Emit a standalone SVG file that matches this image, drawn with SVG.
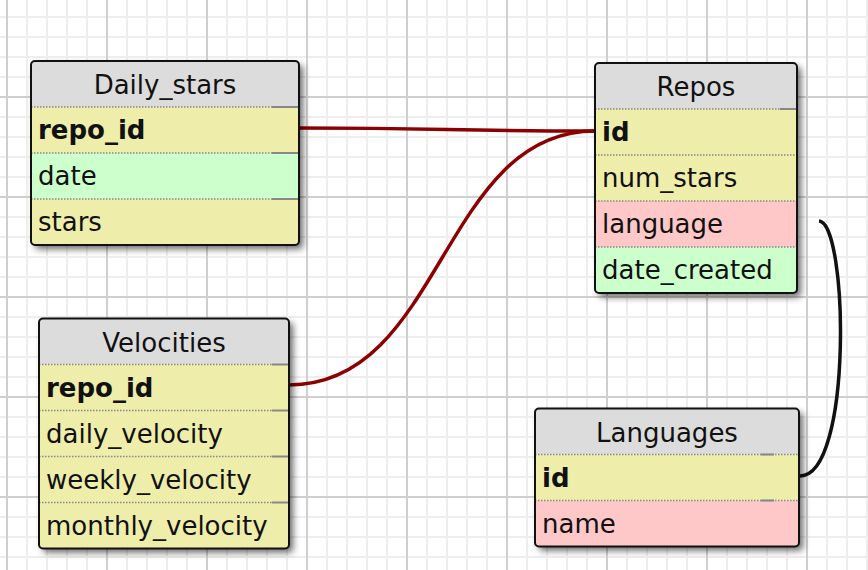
<svg xmlns="http://www.w3.org/2000/svg" width="868" height="570" viewBox="0 0 868 570">
<defs>
<pattern id="grid" patternUnits="userSpaceOnUse" x="-3" y="-13" width="100" height="100">
<path d="M30 0V100M50 0V100M70 0V100M90 0V100M0 30H100M0 50H100M0 70H100M0 90H100" stroke="#eeeeee" stroke-width="2" fill="none"/>
<path d="M10 0V100M0 10H100" stroke="#cfcfcf" stroke-width="2" fill="none"/>
</pattern>
<filter id="sh" x="-10%" y="-10%" width="130%" height="130%">
<feGaussianBlur in="SourceAlpha" stdDeviation="3.5"/>
<feOffset dx="4" dy="4" result="b"/>
<feComponentTransfer><feFuncA type="linear" slope="0.6"/></feComponentTransfer>
<feMerge><feMergeNode/><feMergeNode in="SourceGraphic"/></feMerge>
</filter>
<clipPath id="cDaily"><rect x="31" y="61" width="268" height="184" rx="4"/></clipPath>
<clipPath id="cRepos"><rect x="595" y="63" width="202" height="230" rx="4"/></clipPath>
<clipPath id="cVel"><rect x="39" y="318.5" width="250" height="230" rx="4"/></clipPath>
<clipPath id="cLang"><rect x="535" y="408.5" width="264" height="138" rx="4"/></clipPath>
</defs>
<style>
.hd{fill:#dcdcdc}
.y{fill:#eeeeaa}
.g{fill:#ccffcc}
.p{fill:#ffc8c8}
.bd{fill:none;stroke:#111;stroke-width:2}
.bg{fill:#fff;filter:url(#sh)}
.sep{stroke:#888;stroke-width:1.5;stroke-dasharray:1.5 1.5}
.sol{stroke:#888;stroke-width:2}
text{font-family:"DejaVu Sans",Verdana,sans-serif;font-size:26px;fill:#111}
.t{text-anchor:middle}
.k{font-weight:bold}
.rel{fill:none;stroke:#8b0000;stroke-width:3.5}
.rel2{fill:none;stroke:#111;stroke-width:3.5}
</style>
<rect width="868" height="570" fill="#fff"/>
<rect width="868" height="570" fill="url(#grid)"/>

<g id="connectors">
<path class="rel" d="M299 128C447 128 447 131 595 131"/>
<path class="rel" d="M289 385C443 385 441 131 595 131"/>
<path class="rel2" d="M819 221C848 222 853 476 800 476"/>
</g>

<g id="Daily_stars">
<rect class="bg" x="31" y="61" width="268" height="184" rx="4"/>
<g clip-path="url(#cDaily)">
<rect class="hd" x="31" y="61" width="268" height="46"/>
<rect class="y" x="31" y="107" width="268" height="46"/>
<rect class="g" x="31" y="153" width="268" height="46"/>
<rect class="y" x="31" y="199" width="268" height="46"/>
</g>
<path class="sep" d="M31 107H272M31 153H272M31 199H272"/>
<path class="sol" d="M272 107H299M272 153H299M272 199H299"/>
<rect class="bd" x="31" y="61" width="268" height="184" rx="4"/>
<text class="t" x="165" y="94">Daily_stars</text>
<text class="k" x="38" y="139">repo_id</text>
<text x="38" y="185">date</text>
<text x="38" y="231">stars</text>
</g>

<g id="Repos">
<rect class="bg" x="595" y="63" width="202" height="230" rx="4"/>
<g clip-path="url(#cRepos)">
<rect class="hd" x="595" y="63" width="202" height="46"/>
<rect class="y" x="595" y="109" width="202" height="92"/>
<rect class="p" x="595" y="201" width="202" height="46"/>
<rect class="g" x="595" y="247" width="202" height="46"/>
</g>
<path class="sep" d="M595 109H780M595 155H797M595 201H797M595 247H797"/>
<path class="sol" d="M780 109H797"/>
<rect class="bd" x="595" y="63" width="202" height="230" rx="4"/>
<text class="t" x="696" y="96">Repos</text>
<text class="k" x="602" y="141">id</text>
<text x="602" y="187">num_stars</text>
<text x="602" y="233">language</text>
<text x="602" y="279">date_created</text>
</g>

<g id="Velocities">
<rect class="bg" x="39" y="318.5" width="250" height="230" rx="4"/>
<g clip-path="url(#cVel)">
<rect class="hd" x="39" y="318.5" width="250" height="46"/>
<rect class="y" x="39" y="364.5" width="250" height="184"/>
</g>
<path class="sep" d="M39 364.5H272M39 410.5H272M39 456.5H272M39 502.5H272"/>
<path class="sol" d="M272 364.5H289M272 410.5H289M272 456.5H289M272 502.5H289"/>
<rect class="bd" x="39" y="318.5" width="250" height="230" rx="4"/>
<text class="t" x="164" y="351.5">Velocities</text>
<text class="k" x="46" y="396.5">repo_id</text>
<text x="46" y="442.5">daily_velocity</text>
<text x="46" y="488.5">weekly_velocity</text>
<text x="46" y="534.5">monthly_velocity</text>
</g>

<g id="Languages">
<rect class="bg" x="535" y="408.5" width="264" height="138" rx="4"/>
<g clip-path="url(#cLang)">
<rect class="hd" x="535" y="408.5" width="264" height="46"/>
<rect class="y" x="535" y="454.5" width="264" height="46"/>
<rect class="p" x="535" y="500.5" width="264" height="46"/>
</g>
<path class="sep" d="M535 454.5H799M535 500.5H799"/>
<path class="sol" d="M761 454.5H774M761 500.5H774"/>
<rect class="bd" x="535" y="408.5" width="264" height="138" rx="4"/>
<text class="t" x="667" y="441.5">Languages</text>
<text class="k" x="542" y="486.5">id</text>
<text x="542" y="532.5">name</text>
</g>
</svg>
